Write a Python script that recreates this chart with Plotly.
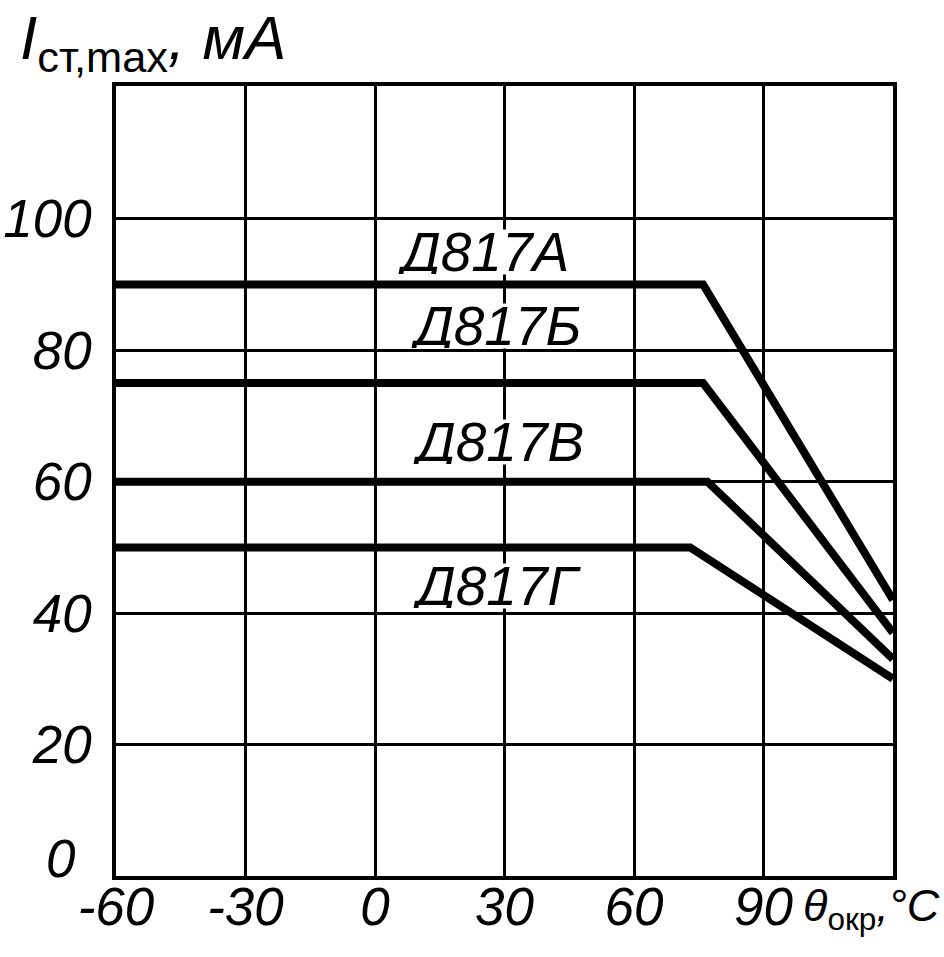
import plotly.graph_objects as go

# ---- data ----
series_names = ["Д817А", "Д817Б", "Д817В", "Д817Г"]
temps_A = [-60, 76, 120]
current_A = [90, 90, 42]
temps_B = [-60, 76, 120]
current_B = [75, 75, 37]
temps_V = [-60, 77, 120]
current_V = [60, 60, 33]
temps_G = [-60, 73, 120]
current_G = [50, 50, 30]

x_tick_values = [-60, -30, 0, 30, 60, 90]
x_tick_labels = ["-60", "-30", "0", "30", "60", "90"]
y_tick_values = [0, 20, 40, 60, 80, 100]
y_tick_labels = ["0", "20", "40", "60", "80", "100"]

# ---- style / layout ----
FONT = "Liberation Sans, Arial, sans-serif"
label_pos = [(24.8, 94.9), (27.8, 83.7), (28.3, 66.0), (28.0, 44.1)]

series = [(temps_A, current_A), (temps_B, current_B),
          (temps_V, current_V), (temps_G, current_G)]

fig = go.Figure()
for (xs, ys), name in zip(series, series_names):
    fig.add_trace(go.Scatter(x=xs, y=ys, mode="lines", name=name,
                             line=dict(color="black", width=8),
                             showlegend=False, hoverinfo="skip"))

tick_font = dict(family=FONT, size=53, color="black", style="italic")

annotations = []
for (lx, ly), name in zip(label_pos, series_names):
    annotations.append(dict(x=lx, y=ly, xref="x", yref="y", text=name,
                            showarrow=False, bgcolor="white", height=44,
                            borderpad=0,
                            font=dict(family=FONT, size=55, color="black",
                                      style="italic")))

# the "0" of the value axis sits a little above the bottom axis line
annotations.append(dict(xref="paper", yref="y", x=0, y=y_tick_values[0],
                        xanchor="right", yanchor="middle", xshift=-38, yshift=18,
                        text=y_tick_labels[0], showarrow=False, font=tick_font))

annotations.append(dict(xref="paper", yref="paper", x=0, y=1,
                        xanchor="left", yanchor="bottom", xshift=-98, yshift=3,
                        text="<i>I</i><sub>ст,max</sub><i>, мА</i>",
                        showarrow=False,
                        font=dict(family=FONT, size=62, color="black")))
annotations.append(dict(xref="paper", yref="paper", x=1, y=0,
                        xanchor="left", yanchor="top", xshift=-92, yshift=-2,
                        text="<i>θ</i><sub>окр</sub><i>,°C</i>",
                        showarrow=False,
                        font=dict(family=FONT, size=45, color="black")))

fig.update_layout(
    width=944, height=957,
    margin=dict(l=116, r=51, t=86, b=81),
    paper_bgcolor="white", plot_bgcolor="white",
    annotations=annotations,
    xaxis=dict(range=[-60, 120], tickvals=x_tick_values, ticktext=x_tick_labels,
               showgrid=True, gridcolor="black", gridwidth=2.5,
               showline=True, linecolor="black", linewidth=3.5, mirror=True,
               zeroline=False, ticks="", tickfont=tick_font,
               ticklabelstandoff=-18, automargin=False),
    yaxis=dict(range=[0, 120.2], tickvals=y_tick_values[1:],
               ticktext=y_tick_labels[1:],
               showgrid=True, gridcolor="black", gridwidth=2.5,
               showline=True, linecolor="black", linewidth=3.5, mirror=True,
               zeroline=False, ticks="", tickfont=tick_font,
               ticklabelstandoff=10, automargin=False),
)

fig.write_html("out.html")
